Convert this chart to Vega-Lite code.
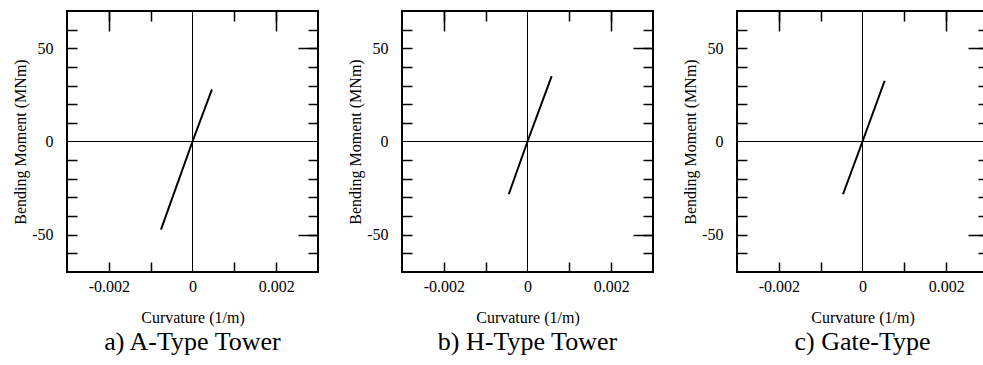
{
  "$schema": "https://vega.github.io/schema/vega-lite/v6.json",
  "background": "white",
  "padding": {"left": 11, "top": 9, "right": 0, "bottom": 0},
  "spacing": 84,
  "bounds": "flush",
  "datasets": {
    "origin": [{"zero": 0}],
    "a": [
      {"curvature": -0.000754, "moment": -47.3},
      {"curvature": 0, "moment": 0},
      {"curvature": 0.000465, "moment": 28.0}
    ],
    "b": [
      {"curvature": -0.000448, "moment": -28.3},
      {"curvature": 0, "moment": 0},
      {"curvature": 0.000578, "moment": 35.1}
    ],
    "c": [
      {"curvature": -0.000466, "moment": -28.3},
      {"curvature": 0, "moment": 0},
      {"curvature": 0.00053, "moment": 32.6}
    ]
  },
  "config": {
    "view": {"stroke": "black", "strokeWidth": 2},
    "font": "Liberation Serif",
    "axis": {
      "domain": false,
      "grid": true,
      "gridColor": "black",
      "gridWidth": 1.5,
      "gridDash": [20, 2000],
      "tickColor": "black",
      "tickWidth": 1.5,
      "tickSize": -10,
      "labelFont": "Liberation Serif",
      "labelFontSize": 16,
      "labelColor": "black",
      "titleFont": "Liberation Serif",
      "titleFontSize": 16,
      "titleFontWeight": "normal",
      "titleColor": "black"
    },
    "title": {"font": "Liberation Serif", "fontSize": 26, "fontWeight": "normal", "color": "black", "orient": "bottom", "frame": "group", "anchor": "middle", "offset": 4}
  },
  "hconcat": [
    {
      "width": 251, "height": 261,
      "title": {"text": "a) A-Type Tower"},
      "layer": [
        {"data": {"name": "origin"}, "mark": {"type": "rule", "color": "black", "strokeWidth": 1},
         "encoding": {"x": {"field": "zero", "type": "quantitative", "scale": {"domain": [-0.003, 0.003], "nice": false, "zero": false},
           "axis": {"orient": "top", "values": [-0.002, -0.001, 0, 0.001, 0.002], "labels": false, "title": null,
             "gridOpacity": {"condition": {"test": "abs(datum.value) > 0.0015", "value": 1}, "value": 0},
             "tickOpacity": {"condition": {"test": "abs(datum.value) < 0.0001", "value": 0}, "value": 1}}}}},
        {"data": {"name": "origin"}, "mark": {"type": "rule", "color": "black", "strokeWidth": 1},
         "encoding": {"y": {"field": "zero", "type": "quantitative", "scale": {"domain": [-70, 70], "nice": false, "zero": false},
           "axis": {"orient": "right", "values": [-60, -50, -40, -30, -20, -10, 0, 10, 20, 30, 40, 50, 60], "labels": false, "title": null,
             "gridOpacity": {"condition": {"test": "abs(datum.value) == 50", "value": 1}, "value": 0},
             "tickOpacity": {"condition": {"test": "datum.value == 0", "value": 0}, "value": 1}}}}},
        {"data": {"name": "a"},
         "mark": {"type": "line", "color": "black", "strokeWidth": 2},
         "encoding": {
           "x": {"field": "curvature", "type": "quantitative", "scale": {"domain": [-0.003, 0.003], "nice": false, "zero": false},
             "axis": {"orient": "bottom", "values": [-0.002, -0.001, 0, 0.001, 0.002], "title": "Curvature (1/m)",
               "labelExpr": "datum.value < -0.0015 ? '-0.002' : datum.value > 0.0015 ? '0.002' : abs(datum.value) < 0.0001 ? '0' : ''",
               "gridOpacity": {"condition": {"test": "abs(datum.value) > 0.0015", "value": 1}, "value": 0},
               "tickOpacity": {"condition": {"test": "abs(datum.value) < 0.0001", "value": 0}, "value": 1},
               "labelPadding": 16, "titlePadding": 15}},
           "y": {"field": "moment", "type": "quantitative", "scale": {"domain": [-70, 70], "nice": false, "zero": false},
             "axis": {"orient": "left", "values": [-60, -50, -40, -30, -20, -10, 0, 10, 20, 30, 40, 50, 60], "title": "Bending Moment (MNm)",
               "labelExpr": "datum.value == 50 ? '50' : datum.value == -50 ? '-50' : datum.value == 0 ? '0' : ''",
               "gridOpacity": {"condition": {"test": "abs(datum.value) == 50", "value": 1}, "value": 0},
               "tickOpacity": {"condition": {"test": "datum.value == 0", "value": 0}, "value": 1},
               "labelPadding": 24, "titlePadding": 3}}
         }}
      ],
      "resolve": {"axis": {"x": "independent", "y": "independent"}}
    },
    {
      "width": 251, "height": 261,
      "title": {"text": "b) H-Type Tower"},
      "layer": [
        {"data": {"name": "origin"}, "mark": {"type": "rule", "color": "black", "strokeWidth": 1},
         "encoding": {"x": {"field": "zero", "type": "quantitative", "scale": {"domain": [-0.003, 0.003], "nice": false, "zero": false},
           "axis": {"orient": "top", "values": [-0.002, -0.001, 0, 0.001, 0.002], "labels": false, "title": null,
             "gridOpacity": {"condition": {"test": "abs(datum.value) > 0.0015", "value": 1}, "value": 0},
             "tickOpacity": {"condition": {"test": "abs(datum.value) < 0.0001", "value": 0}, "value": 1}}}}},
        {"data": {"name": "origin"}, "mark": {"type": "rule", "color": "black", "strokeWidth": 1},
         "encoding": {"y": {"field": "zero", "type": "quantitative", "scale": {"domain": [-70, 70], "nice": false, "zero": false},
           "axis": {"orient": "right", "values": [-60, -50, -40, -30, -20, -10, 0, 10, 20, 30, 40, 50, 60], "labels": false, "title": null,
             "gridOpacity": {"condition": {"test": "abs(datum.value) == 50", "value": 1}, "value": 0},
             "tickOpacity": {"condition": {"test": "datum.value == 0", "value": 0}, "value": 1}}}}},
        {"data": {"name": "b"},
         "mark": {"type": "line", "color": "black", "strokeWidth": 2},
         "encoding": {
           "x": {"field": "curvature", "type": "quantitative", "scale": {"domain": [-0.003, 0.003], "nice": false, "zero": false},
             "axis": {"orient": "bottom", "values": [-0.002, -0.001, 0, 0.001, 0.002], "title": "Curvature (1/m)",
               "labelExpr": "datum.value < -0.0015 ? '-0.002' : datum.value > 0.0015 ? '0.002' : abs(datum.value) < 0.0001 ? '0' : ''",
               "gridOpacity": {"condition": {"test": "abs(datum.value) > 0.0015", "value": 1}, "value": 0},
               "tickOpacity": {"condition": {"test": "abs(datum.value) < 0.0001", "value": 0}, "value": 1},
               "labelPadding": 16, "titlePadding": 15}},
           "y": {"field": "moment", "type": "quantitative", "scale": {"domain": [-70, 70], "nice": false, "zero": false},
             "axis": {"orient": "left", "values": [-60, -50, -40, -30, -20, -10, 0, 10, 20, 30, 40, 50, 60], "title": "Bending Moment (MNm)",
               "labelExpr": "datum.value == 50 ? '50' : datum.value == -50 ? '-50' : datum.value == 0 ? '0' : ''",
               "gridOpacity": {"condition": {"test": "abs(datum.value) == 50", "value": 1}, "value": 0},
               "tickOpacity": {"condition": {"test": "datum.value == 0", "value": 0}, "value": 1},
               "labelPadding": 24, "titlePadding": 3}}
         }}
      ],
      "resolve": {"axis": {"x": "independent", "y": "independent"}}
    },
    {
      "width": 251, "height": 261,
      "title": {"text": "c) Gate-Type"},
      "layer": [
        {"data": {"name": "origin"}, "mark": {"type": "rule", "color": "black", "strokeWidth": 1},
         "encoding": {"x": {"field": "zero", "type": "quantitative", "scale": {"domain": [-0.003, 0.003], "nice": false, "zero": false},
           "axis": {"orient": "top", "values": [-0.002, -0.001, 0, 0.001, 0.002], "labels": false, "title": null,
             "gridOpacity": {"condition": {"test": "abs(datum.value) > 0.0015", "value": 1}, "value": 0},
             "tickOpacity": {"condition": {"test": "abs(datum.value) < 0.0001", "value": 0}, "value": 1}}}}},
        {"data": {"name": "origin"}, "mark": {"type": "rule", "color": "black", "strokeWidth": 1},
         "encoding": {"y": {"field": "zero", "type": "quantitative", "scale": {"domain": [-70, 70], "nice": false, "zero": false},
           "axis": {"orient": "right", "values": [-60, -50, -40, -30, -20, -10, 0, 10, 20, 30, 40, 50, 60], "labels": false, "title": null,
             "gridOpacity": {"condition": {"test": "abs(datum.value) == 50", "value": 1}, "value": 0},
             "tickOpacity": {"condition": {"test": "datum.value == 0", "value": 0}, "value": 1}}}}},
        {"data": {"name": "c"},
         "mark": {"type": "line", "color": "black", "strokeWidth": 2},
         "encoding": {
           "x": {"field": "curvature", "type": "quantitative", "scale": {"domain": [-0.003, 0.003], "nice": false, "zero": false},
             "axis": {"orient": "bottom", "values": [-0.002, -0.001, 0, 0.001, 0.002], "title": "Curvature (1/m)",
               "labelExpr": "datum.value < -0.0015 ? '-0.002' : datum.value > 0.0015 ? '0.002' : abs(datum.value) < 0.0001 ? '0' : ''",
               "gridOpacity": {"condition": {"test": "abs(datum.value) > 0.0015", "value": 1}, "value": 0},
               "tickOpacity": {"condition": {"test": "abs(datum.value) < 0.0001", "value": 0}, "value": 1},
               "labelPadding": 16, "titlePadding": 15}},
           "y": {"field": "moment", "type": "quantitative", "scale": {"domain": [-70, 70], "nice": false, "zero": false},
             "axis": {"orient": "left", "values": [-60, -50, -40, -30, -20, -10, 0, 10, 20, 30, 40, 50, 60], "title": "Bending Moment (MNm)",
               "labelExpr": "datum.value == 50 ? '50' : datum.value == -50 ? '-50' : datum.value == 0 ? '0' : ''",
               "gridOpacity": {"condition": {"test": "abs(datum.value) == 50", "value": 1}, "value": 0},
               "tickOpacity": {"condition": {"test": "datum.value == 0", "value": 0}, "value": 1},
               "labelPadding": 24, "titlePadding": 3}}
         }}
      ],
      "resolve": {"axis": {"x": "independent", "y": "independent"}}
    }
  ]
}
